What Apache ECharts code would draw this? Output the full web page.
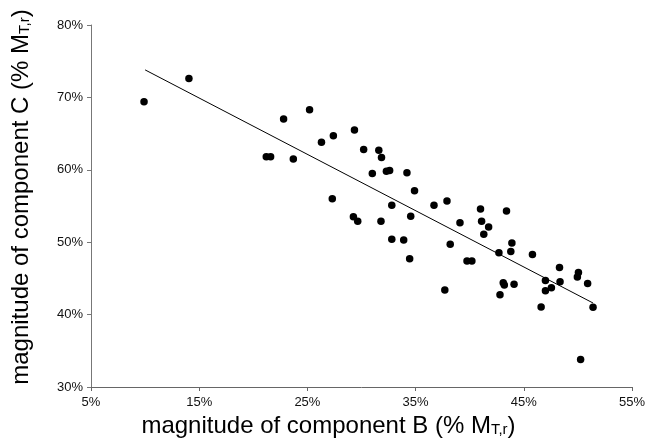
<!DOCTYPE html>
<html>
<head>
<meta charset="utf-8">
<script src="https://cdn.jsdelivr.net/npm/echarts@6/dist/echarts.min.js"></script>
<style>
  html, body { margin: 0; padding: 0; background: #fff; }
  #chart_container { width: 662px; height: 448px; }
</style>
</head>
<body>
<div id="chart_container"></div>
<script>
// component B (%), component C (%)
var compB = [9.9, 14.05, 21.2, 21.6, 22.8, 23.7, 25.2, 26.3, 27.4, 27.3,
  29.35, 30.2, 31.6, 31.85, 31.0, 32.3, 32.6, 34.2, 34.9, 32.8,
  36.7, 37.9, 29.25, 29.65, 31.8, 34.55, 32.8, 33.9, 34.45, 38.2,
  39.1, 41.0, 41.1, 41.75, 41.3, 43.4, 43.9, 43.8, 42.7, 45.8,
  39.75, 40.2, 37.7, 43.1, 43.2, 42.8, 44.1, 46.6, 47.0, 47.0,
  47.55, 48.3, 48.35, 49.95, 50.05, 50.9, 51.4, 50.25];
var compC = [69.4, 72.6, 61.8, 61.8, 67.0, 61.5, 68.3, 63.8, 64.7, 56.0,
  65.5, 62.8, 62.7, 61.7, 59.5, 59.8, 59.9, 59.6, 57.1, 55.1,
  55.1, 55.7, 53.5, 52.9, 52.9, 53.6, 50.4, 50.3, 47.7, 49.7,
  52.7, 54.6, 52.9, 52.1, 51.1, 54.3, 49.9, 48.7, 48.55, 48.3,
  47.4, 47.4, 43.4, 44.4, 44.1, 42.75, 44.2, 41.05, 44.7, 43.3,
  43.7, 46.5, 44.55, 45.2, 45.8, 44.3, 41.0, 33.8];
// trend line ends
var trendB = [10.0, 51.4];
var trendC = [73.8, 41.6];

var points = compB.map(function (b, i) { return [b, compC[i]]; });
var trend = trendB.map(function (b, i) { return [b, trendC[i]]; });

var chart = echarts.init(document.getElementById('chart_container'));

var sub = {
  t: { fontSize: 24, fontFamily: 'Liberation Sans', color: '#000' },
  s: { fontSize: 15, fontFamily: 'Liberation Sans', color: '#000', padding: [8, 0, 0, 0] }
};

var option = {
  animation: false,
  backgroundColor: '#fff',
  grid: { left: 91, right: 30, top: 25, bottom: 61, containLabel: false, outerBoundsMode: 'none' },
  xAxis: {
    type: 'value',
    min: 5, max: 55, interval: 10,
    name: '{t|magnitude of component B (% M}{s|T,r}{t|)}',
    nameLocation: 'middle',
    nameGap: 22,
    nameTextStyle: { rich: sub, padding: [0, 66, 0, 0] },
    axisLine: { show: true, lineStyle: { color: '#666', width: 1 } },
    axisTick: { show: true, length: 4, lineStyle: { color: '#666' } },
    axisLabel: {
      margin: 9, fontSize: 13, fontFamily: 'Liberation Sans', color: '#111',
      formatter: function (v) { return v + '%'; }
    },
    splitLine: { show: false }
  },
  yAxis: {
    type: 'value',
    min: 30, max: 80, interval: 10,
    name: '{t|magnitude of component C (% M}{s|T,r}{t|)}',
    nameLocation: 'middle',
    nameRotate: 90,
    nameGap: 58,
    nameTextStyle: { rich: sub, padding: [0, 0, 0, 18] },
    axisLine: { show: true, lineStyle: { color: '#777', width: 1 } },
    axisTick: { show: true, length: 4, lineStyle: { color: '#777' } },
    axisLabel: {
      margin: 8, fontSize: 13, fontFamily: 'Liberation Sans', color: '#111',
      formatter: function (v) { return v + '%'; }
    },
    splitLine: { show: false }
  },
  series: [
    {
      type: 'scatter',
      data: points,
      symbol: 'circle',
      symbolSize: 7.5,
      itemStyle: { color: '#000', opacity: 1 }
    },
    {
      type: 'line',
      data: trend,
      showSymbol: false,
      symbol: 'none',
      lineStyle: { color: '#000', width: 1 },
      silent: true
    }
  ]
};
chart.setOption(option);
</script>
</body>
</html>
